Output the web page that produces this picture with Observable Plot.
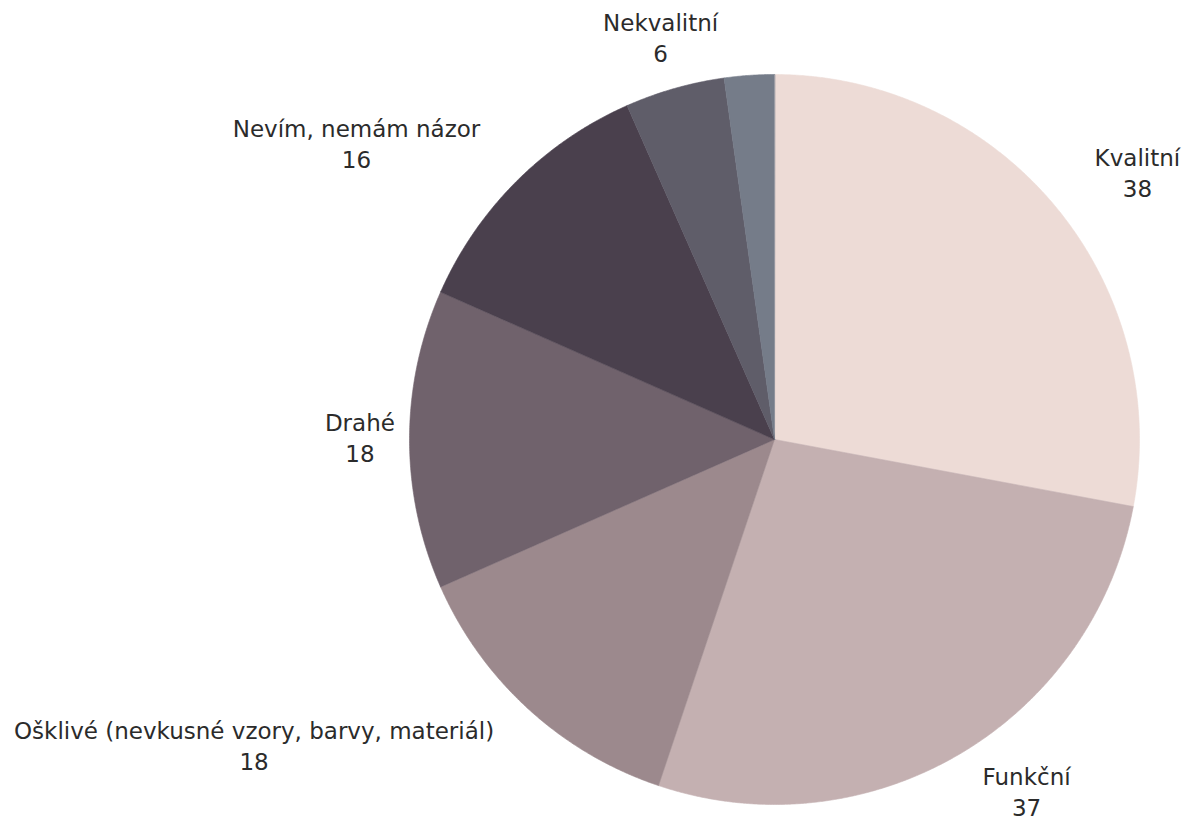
<!DOCTYPE html>
<html>
<head>
<meta charset="utf-8">
<script src="https://cdn.jsdelivr.net/npm/d3@7"></script>
<script src="https://cdn.jsdelivr.net/npm/@observablehq/plot@0.6"></script>
<style>
  html, body { margin: 0; padding: 0; background: #ffffff; }
  #chart { width: 1186px; height: 824px; }
</style>
</head>
<body>
<div id="chart"></div>
<script>
// ---- data ----
const categories = [
  "Kvalitní",
  "Funkční",
  "Ošklivé (nevkusné vzory, barvy, materiál)",
  "Drahé",
  "Nevím, nemám názor",
  "Nekvalitní",
  "Jiné"
];
const values = [38, 37, 18, 18, 16, 6, 3];
const colors = ["#EDDBD6", "#C4B0B1", "#9C898D", "#70626C", "#4A404D", "#5F5D69", "#757C89"];
const showLabel = [true, true, true, true, true, true, false];

// ---- layout ----
const W = 1186, H = 824;
const CX = 774, CY = 439, R = 365;           // pixel placement of the pie
const FONT = "DejaVu Sans", FS = 23, LINE = 15.5;
const labelRadius = {default: 1.14, "Drahé": 1.04, "Funkční": 1.125};

const rows = categories.map((name, i) => ({name, value: values[i], label: showLabel[i]}));
const arcs = d3.pie().sort(null).value(d => d.value)(rows);

// slice polygons in unit-radius coordinates (y up)
const poly = [];
for (const a of arcs) {
  poly.push({name: a.data.name, x: 0, y: 0});
  const n = Math.max(2, Math.ceil((a.endAngle - a.startAngle) / (Math.PI / 720)));
  for (let k = 0; k <= n; k++) {
    const t = a.startAngle + (a.endAngle - a.startAngle) * k / n;
    poly.push({name: a.data.name, x: Math.sin(t), y: Math.cos(t)});
  }
}

// label positions
const ctx = document.createElement("canvas").getContext("2d");
ctx.font = `${FS}px "${FONT}"`;
const labels = arcs.filter(a => a.data.label).map(a => {
  const mid = (a.startAngle + a.endAngle) / 2;
  const s = Math.sin(mid), c = Math.cos(mid);
  const k = labelRadius[a.data.name] ?? labelRadius.default;
  const w = ctx.measureText(a.data.name).width;
  const side = Math.abs(s) < 0.3 ? 0 : Math.sign(s);
  return {
    name: a.data.name,
    value: String(a.data.value),
    x: s * k + side * (w / 2) / R,
    y: c * k
  };
});

const chart = Plot.plot({
  width: W,
  height: H,
  margin: 0,
  x: {domain: [-CX / R, (W - CX) / R], axis: null},
  y: {domain: [-(H - CY) / R, CY / R], axis: null},
  color: {domain: categories, range: colors},
  style: {fontFamily: FONT, fontSize: FS + "px", background: "#ffffff"},
  marks: [
    Plot.line(poly, {x: "x", y: "y", z: "name", fill: "name", stroke: "name", strokeWidth: 0.6, curve: "linear-closed"}),
    Plot.text(labels, {x: "x", y: "y", text: "name", dy: -LINE, fontSize: FS, fill: "#2b2b2b", fontFamily: FONT}),
    Plot.text(labels, {x: "x", y: "y", text: "value", dy: LINE, fontSize: FS, fill: "#2b2b2b", fontFamily: FONT})
  ]
});
document.getElementById("chart").appendChild(chart);
</script>
</body>
</html>
